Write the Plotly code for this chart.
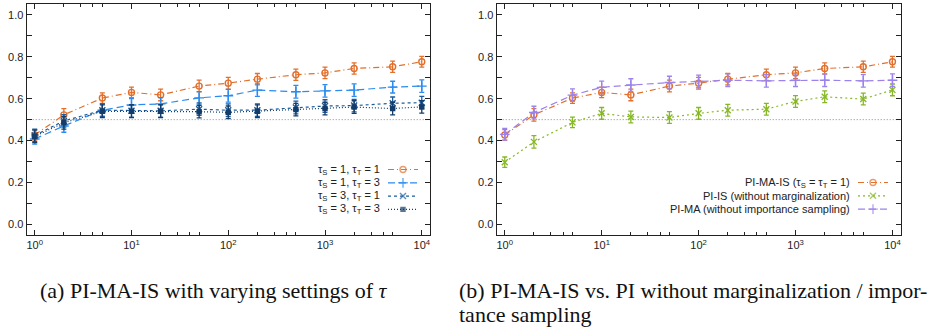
import plotly.graph_objects as go

# ---------------- data ----------------
budget = [1, 2, 5, 10, 20, 50, 100, 200, 500, 1000, 2000, 5000, 10000]

pi_ma_is_11 = [0.427, 0.523, 0.603, 0.630, 0.618, 0.660, 0.674, 0.693, 0.714, 0.723, 0.744, 0.752, 0.776]
pi_ma_is_11_err = [0.025, 0.030, 0.025, 0.025, 0.028, 0.028, 0.028, 0.027, 0.027, 0.027, 0.027, 0.027, 0.026]

pi_ma_is_13 = [0.408, 0.470, 0.545, 0.570, 0.575, 0.604, 0.614, 0.641, 0.633, 0.637, 0.641, 0.655, 0.660]
pi_ma_is_13_err = [0.025, 0.030, 0.030, 0.030, 0.030, 0.030, 0.030, 0.030, 0.030, 0.030, 0.030, 0.028, 0.030]

pi_ma_is_31 = [0.425, 0.494, 0.545, 0.542, 0.542, 0.550, 0.545, 0.545, 0.558, 0.565, 0.567, 0.578, 0.581]
pi_ma_is_31_err = [0.030, 0.030, 0.030, 0.030, 0.030, 0.030, 0.030, 0.030, 0.030, 0.030, 0.030, 0.030, 0.030]

pi_ma_is_33 = [0.420, 0.485, 0.540, 0.540, 0.540, 0.538, 0.535, 0.540, 0.548, 0.553, 0.560, 0.553, 0.561]
pi_ma_is_33_err = [0.030, 0.030, 0.030, 0.030, 0.030, 0.030, 0.030, 0.030, 0.030, 0.030, 0.030, 0.030, 0.030]

pi_is = [0.297, 0.394, 0.487, 0.530, 0.513, 0.510, 0.530, 0.545, 0.550, 0.587, 0.609, 0.598, 0.642]
pi_is_err = [0.025, 0.030, 0.025, 0.028, 0.028, 0.028, 0.028, 0.028, 0.028, 0.028, 0.028, 0.028, 0.028]

pi_ma = [0.430, 0.534, 0.617, 0.654, 0.665, 0.677, 0.682, 0.688, 0.685, 0.688, 0.688, 0.685, 0.688]
pi_ma_err = [0.028, 0.030, 0.030, 0.030, 0.030, 0.030, 0.030, 0.030, 0.030, 0.030, 0.030, 0.030, 0.030]

chance_level = 0.5

x_major_ticks = [1, 10, 100, 1000, 10000]
x_major_text = ["10<sup>0</sup>", "10<sup>1</sup>", "10<sup>2</sup>", "10<sup>3</sup>", "10<sup>4</sup>"]
x_minor_ticks = [m * 10 ** k for k in range(4) for m in (2, 3, 4, 5)]
y_major_ticks = [0.0, 0.2, 0.4, 0.6, 0.8, 1.0]
y_major_text = ["0.0", "0.2", "0.4", "0.6", "0.8", "1.0"]
y_minor_ticks = [0.1, 0.3, 0.5, 0.7, 0.9]

legend_left = ["τ<sub>S</sub> = 1, τ<sub>T</sub> = 1", "τ<sub>S</sub> = 1, τ<sub>T</sub> = 3",
               "τ<sub>S</sub> = 3, τ<sub>T</sub> = 1", "τ<sub>S</sub> = 3, τ<sub>T</sub> = 3"]
legend_right = ["PI-MA-IS (τ<sub>S</sub> = τ<sub>T</sub> = 1)", "PI-IS (without marginalization)",
                "PI-MA (without importance sampling)"]

caption_a = "(a) PI-MA-IS with varying settings of <i>τ</i>"
caption_b1 = "(b) PI-MA-IS vs. PI without marginalization / impor-"
caption_b2 = "tance sampling"

# ---------------- style ----------------
W, H = 930, 328
ORANGE = "#E2702C"
LBLUE = "#2A8CF0"
DBLUE = "#1D5C9C"
NAVY = "#143D6B"
GREEN = "#86B826"
PURPLE = "#9C82EC"

styles_left = [
    (pi_ma_is_11, pi_ma_is_11_err, ORANGE, "6px,3px,1px,3px", "circle-open", 6),
    (pi_ma_is_13, pi_ma_is_13_err, LBLUE, "7px,4px", "cross-thin", 7),
    (pi_ma_is_31, pi_ma_is_31_err, DBLUE, "3px,3px", "x-thin", 6),
    (pi_ma_is_33, pi_ma_is_33_err, NAVY, "1px,2px", "square", 4),
]
styles_right = [
    (pi_ma_is_11, pi_ma_is_11_err, ORANGE, "6px,3px,1px,3px", "circle-open", 6),
    (pi_is, pi_is_err, GREEN, "2px,3px", "x-thin", 6),
    (pi_ma, pi_ma_err, PURPLE, "7px,4px", "cross-thin", 7),
]

fig = go.Figure()

def add_series(styles, xa, ya):
    for vals, err, col, dash, sym, size in styles:
        fig.add_trace(go.Scatter(
            x=budget, y=vals, xaxis=xa, yaxis=ya, mode="lines+markers",
            line=dict(color=col, width=1.2, dash=dash),
            marker=dict(symbol=sym, size=size, color=col, line=dict(color=col, width=1.4)),
            error_y=dict(type="data", array=err, visible=True, color=col, thickness=1.3, width=2.5),
            showlegend=False, hoverinfo="skip"))

add_series(styles_left, "x", "y")
add_series(styles_right, "x2", "y2")

# manual legends drawn on a pixel-space overlay axis
def add_legend(styles, labels, text_right, sample_x0, sample_x1, y_first, dy):
    for i, ((_, _, col, dash, sym, size), lab) in enumerate(zip(styles, labels)):
        yy = y_first + i * dy
        xm = (sample_x0 + sample_x1) / 2
        fig.add_trace(go.Scatter(
            x=[sample_x0, xm, sample_x1], y=[yy, yy, yy], xaxis="x3", yaxis="y3",
            mode="lines+markers", line=dict(color=col, width=1.2, dash=dash),
            marker=dict(symbol=sym, size=[0, size, 0], color=col, line=dict(color=col, width=1.4)),
            showlegend=False, hoverinfo="skip"))
        fig.add_annotation(x=text_right, y=yy, xref="x3", yref="y3", text=lab, showarrow=False,
                           xanchor="right", yanchor="middle",
                           font=dict(family="Liberation Sans", size=11, color="#222"))

add_legend(styles_left, legend_left, 382, 388, 418, 169.5, 13.3)
add_legend(styles_right, legend_right, 852, 858, 888, 182.5, 13.3)

axis_common = dict(type="log", range=[-0.083, 4.085], tickvals=x_major_ticks, ticktext=x_major_text,
                   ticks="inside", ticklen=5, tickwidth=1, tickcolor="#222", mirror="ticks",
                   showline=True, linecolor="#222", linewidth=1.2, showgrid=False, zeroline=False,
                   tickfont=dict(family="Liberation Sans", size=11, color="#222"),
                   minor=dict(tickvals=x_minor_ticks, ticks="inside", ticklen=3, tickcolor="#222"))
yaxis_common = dict(range=[-0.05, 1.05], tickvals=y_major_ticks, ticktext=y_major_text,
                    ticks="inside", ticklen=5, tickwidth=1, tickcolor="#222", mirror="ticks",
                    showline=True, linecolor="#222", linewidth=1.2, showgrid=False, zeroline=False,
                    tickfont=dict(family="Liberation Sans", size=11, color="#222"),
                    minor=dict(tickvals=y_minor_ticks, ticks="inside", ticklen=5, tickcolor="#222"))

y_dom = [1 - 235 / H, 1 - 4.3 / H]
fig.update_layout(
    width=W, height=H, margin=dict(l=0, r=0, t=0, b=0),
    paper_bgcolor="white", plot_bgcolor="rgba(0,0,0,0)",
    xaxis=dict(domain=[26.7 / W, 430 / W], anchor="y", **axis_common),
    yaxis=dict(domain=y_dom, anchor="x", **yaxis_common),
    xaxis2=dict(domain=[496.7 / W, 900.7 / W], anchor="y2", **axis_common),
    yaxis2=dict(domain=y_dom, anchor="x2", **yaxis_common),
    xaxis3=dict(domain=[0, 1], range=[0, W], visible=False, anchor="y3", fixedrange=True),
    yaxis3=dict(domain=[0, 1], range=[H, 0], visible=False, anchor="x3", fixedrange=True),
    showlegend=False,
)

for xr, yr in (("x", "y"), ("x2", "y2")):
    fig.add_shape(type="line", xref=f"{xr} domain", yref=yr, x0=0, x1=1, y0=chance_level, y1=chance_level,
                  line=dict(color="#888", width=1, dash="1px,2px"), layer="below")

cap_font = dict(family="Liberation Serif", size=22, color="#111")
fig.add_annotation(x=214 / W, y=1 - 290 / H, xref="paper", yref="paper", text=caption_a,
                   showarrow=False, xanchor="center", yanchor="middle", font=cap_font)
fig.add_annotation(x=457 / W, y=1 - 290 / H, xref="paper", yref="paper", text=caption_b1,
                   showarrow=False, xanchor="left", yanchor="middle", font=cap_font)
fig.add_annotation(x=457 / W, y=1 - 314 / H, xref="paper", yref="paper", text=caption_b2,
                   showarrow=False, xanchor="left", yanchor="middle", font=cap_font)

fig.write_html("out.html", config={"displayModeBar": False},
               post_script="document.body.style.margin='0';document.body.style.overflow='hidden';")
